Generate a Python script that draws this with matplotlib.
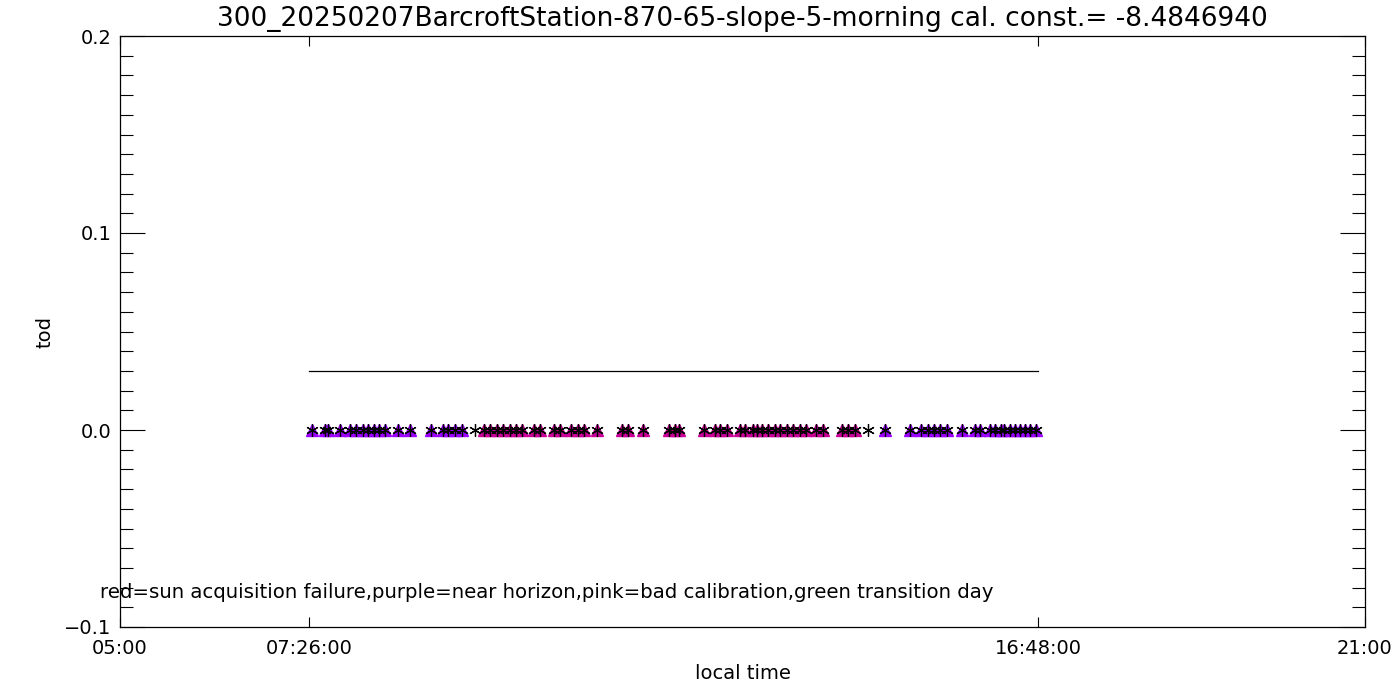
import matplotlib
matplotlib.use("Agg")
import matplotlib.pyplot as plt
from matplotlib.ticker import MultipleLocator, FixedLocator, FixedFormatter, FuncFormatter

title = "300_20250207BarcroftStation-870-65-slope-5-morning cal. const.= -8.4846940"
legend_text = "red=sun acquisition failure,purple=near horizon,pink=bad calibration,green transition day"

# Observation times (HH:MM) and their flag class
purple_early = ["07:28", "07:38", "07:40", "07:50", "07:57", "08:02", "08:07", "08:11",
                "08:16", "08:20", "08:24", "08:34", "08:44", "09:00", "09:09", "09:13",
                "09:18", "09:24"]
unflagged = ["09:34", "14:37"]
pink_times = ["09:41", "09:45", "09:51", "09:55", "10:01", "10:05", "10:10", "10:19",
              "10:24", "10:35", "10:39", "10:48", "10:53", "10:58", "11:08", "11:27",
              "11:32", "11:43", "12:03", "12:08", "12:11", "12:30", "12:39", "12:43",
              "12:48", "12:58", "13:02", "13:08", "13:11", "13:15", "13:20", "13:25",
              "13:29", "13:34", "13:39", "13:44", "13:49", "13:57", "14:02", "14:17",
              "14:21", "14:27"]
purple_late = ["14:50", "15:09", "15:18", "15:23", "15:28", "15:32", "15:38", "15:49",
               "15:59", "16:03", "16:11", "16:15", "16:19", "16:22", "16:26", "16:30",
               "16:34", "16:38", "16:42", "16:46"]
tod_value = 0.0
threshold = 0.03
day_start = "07:26"
day_end = "16:48"
xlim_hours = (5, 21)
ylim = (-0.1, 0.2)
xtick_labels = ["05:00", "07:26:00", "16:48:00", "21:00"]


def hours(t):
    h, m = t.split(":")
    return int(h) + int(m) / 60.0


purple = [hours(t) for t in purple_early + purple_late]
pink = [hours(t) for t in pink_times]
all_times = [hours(t) for t in purple_early + unflagged + pink_times + purple_late]

plt.rcParams['font.family'] = ['DejaVu Sans']
fig = plt.figure(figsize=(14, 7), dpi=100)
ax = fig.add_axes([120/1400, 1-627/700, 1245/1400, 591/700])

ax.plot([hours(day_start), hours(day_end)], [threshold, threshold], color='black', lw=0.9)
ax.plot(purple, [tod_value]*len(purple), linestyle='none', marker='^', ms=8.5,
        color='#9A00FF', mec='#9A00FF')
ax.plot(pink, [tod_value]*len(pink), linestyle='none', marker='^', ms=8.5,
        color='#C80096', mec='#C80096')
ax.plot(all_times, [tod_value]*len(all_times), linestyle='none', marker=(6, 2, 0), ms=9,
        color='black', mew=0.9)

ax.set_xlim(*xlim_hours)
ax.set_ylim(*ylim)
xt = [xlim_hours[0], hours(day_start), hours(day_end), xlim_hours[1]]
ax.xaxis.set_major_locator(FixedLocator(xt))
ax.xaxis.set_major_formatter(FixedFormatter(xtick_labels))
ax.yaxis.set_major_locator(MultipleLocator(0.1))
ax.yaxis.set_minor_locator(MultipleLocator(0.01))
ax.yaxis.set_major_formatter(FuncFormatter(lambda v, p: ("%.1f" % v).replace("-", "\u2212")))

ax.tick_params(axis='x', which='major', direction='in', length=7.5, width=0.8,
               top=True, bottom=True, labelsize=14, pad=9)
ax.tick_params(axis='y', which='major', direction='in', length=18, width=0.8,
               left=True, right=True, labelsize=14, pad=6)
ax.tick_params(axis='y', which='minor', direction='in', length=9.5, width=0.8,
               left=True, right=True)
for s in ax.spines.values():
    s.set_linewidth(0.9)

ax.set_xlabel("local time", fontsize=14, labelpad=4)
ax.set_ylabel("tod", fontsize=14, labelpad=7)
fig.text(742/1400, 1-19/700, title, ha='center', va='center', fontsize=19)
fig.text(100/1400, 1-593/700, legend_text, ha='left', va='center', fontsize=14.2)

fig.savefig("out.png", dpi=100)
